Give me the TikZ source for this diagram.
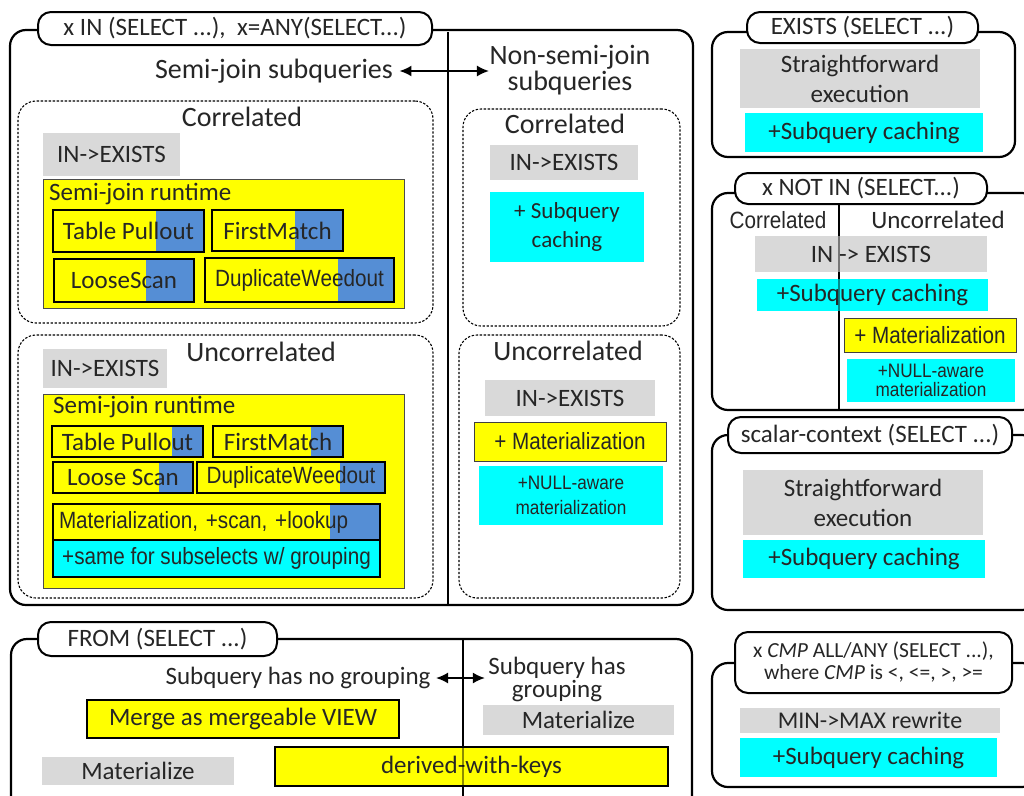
\documentclass[tikz,border=0pt]{standalone}
\usepackage{fontspec}
\setmainfont{Carlito}
\newfontfamily\arn[FakeStretch=0.88]{Liberation Sans}
\usetikzlibrary{arrows.meta}
\definecolor{ygold}{HTML}{FFFF00}
\definecolor{cyn}{HTML}{00FFFF}
\definecolor{gry}{HTML}{D9D9D9}
\definecolor{blu}{HTML}{558ED5}
\definecolor{txt}{HTML}{262626}
\newcommand\fL{\fontsize{28}{26}\selectfont}
\newcommand\fM{\fontsize{25}{30}\selectfont}
\newcommand\fMt{\fontsize{25}{23}\selectfont}
\newcommand\fMm{\fontsize{24}{26}\selectfont}
\newcommand\fS{\fontsize{23}{29}\selectfont}
\newcommand\fT{\fontsize{21.5}{22}\selectfont}
\newcommand\fN{\arn\fontsize{23.5}{26}\selectfont}
\newcommand\fNs{\arn\fontsize{19.5}{25}\selectfont}
\newcommand\fNt{\arn\fontsize{19.5}{19}\selectfont}
\newcommand\mybx[7]{\node[inner sep=0pt,outer sep=0pt,minimum width={(#5)-(#3)},minimum height={(#6)-(#4)},#2] (#1) at ({((#3)+(#5))/2},{((#4)+(#6))/2}) {#7};}
\tikzset{
  bigbox/.style={draw=black, line width=2.2pt, rounded corners=16pt},
  lab/.style={draw=black, fill=white, line width=2pt, rounded corners=13pt, font=\fM},
  dbox/.style={draw=black, line width=1.1pt, dash pattern=on 2.4pt off 1.6pt, rounded corners=18pt},
  grayb/.style={fill=gry},
  cyanb/.style={fill=cyn},
  yelb/.style={fill=ygold, draw=black!75, line width=0.8pt},
  sjr/.style={fill=ygold, draw=black!70, line width=0.9pt},
  algo/.style={fill=ygold, draw=black, line width=1.6pt,
    path picture={\fill[blu] ([xshift=-#1]path picture bounding box.north east) rectangle (path picture bounding box.south east);}},
  divider/.style={draw=black, line width=1.8pt},
  dblarrow/.style={{Latex[length=12pt,width=11pt]}-{Latex[length=12pt,width=11pt]}, line width=1.8pt},
}
\begin{document}
\begin{tikzpicture}[x=1pt,y=-1pt, every node/.append style={text=txt}]
\fill[white] (0,0) rectangle (1024,795);
\useasboundingbox (0,0) rectangle (1024,795);

% ---------------- IN box
\mybx{inbox}{bigbox}{10}{30}{693}{605}{}
\draw[divider] (448,32) -- (448,605);
\mybx{inlab}{lab}{38}{12}{432}{45}{x IN (SELECT ...),\ \ x=ANY(SELECT...)}
\node[font=\fL] (sjq) at (274,71) {Semi-join subqueries};
\node[font=\fL,align=center] (nsj) at (570,70) {Non-semi-join\\subqueries};
\draw[dblarrow] ([xshift=3pt]sjq.east) -- ([xshift=3pt]sjq.east -| nsj.west);

% left correlated
\mybx{corrL}{dbox}{18}{101}{433}{323}{}
\node[font=\fL] (corrLt) at (242,117) {Correlated};
\mybx{ieL1}{grayb,font=\fM}{43}{133}{180}{176}{IN->EXISTS}
\mybx{sjr1}{sjr}{43}{179}{404}{308}{}
\node[font=\fM,anchor=west,inner sep=0pt] (sjr1t) at (49,194) {Semi-join runtime};
\mybx{tp1}{algo=48,font=\fM}{53}{210}{204}{252}{Table Pullout}
\mybx{fm1}{algo=48,font=\fM}{212}{210}{343}{251}{FirstMatch}
\mybx{ls1}{algo=48,font=\fM}{54}{259}{194}{302}{LooseScan}
\mybx{dw1}{algo=56,font=\fN}{205}{258}{394}{302}{DuplicateWeedout}

% left uncorrelated
\mybx{uncL}{dbox}{18}{335}{433}{598}{}
\node[font=\fL] (uncLt) at (261,352) {Uncorrelated};
\mybx{ieL2}{grayb,font=\fM}{43}{349}{167}{388}{IN->EXISTS}
\mybx{sjr2}{sjr}{43}{394}{404}{588}{}
\node[font=\fM,anchor=west,inner sep=0pt] (sjr2t) at (53,407) {Semi-join runtime};
\mybx{tp2}{algo=31,font=\fM}{52}{426}{203}{457}{Table Pullout}
\mybx{fm2}{algo=32,font=\fM}{213}{426}{343}{457}{FirstMatch}
\mybx{ls2}{algo=34,font=\fM}{53}{462}{193}{493}{Loose Scan}
\mybx{dw2}{algo=45,font=\fN}{197}{462}{385}{493}{DuplicateWeedout}
\mybx{mat2}{algo=50,font=\fN,inner xsep=6pt,text width=315pt,align=left}{53}{504}{380}{540}{Materialization, +scan, +lookup}
\mybx{same2}{cyanb,draw=black,line width=1.6pt,font=\fN}{53}{540}{380}{577}{+same for subselects w/ grouping}

% right correlated
\mybx{corrR}{dbox}{463}{109}{680}{326}{}
\node[font=\fL] (corrRt) at (565,124) {Correlated};
\mybx{ieR1}{grayb,font=\fM}{490}{145}{638}{180}{IN->EXISTS}
\mybx{scR1}{cyanb,font=\fS,align=center}{490}{192}{644}{262}{+ Subquery\\caching}

% right uncorrelated
\mybx{uncR}{dbox}{459}{335}{680}{598}{}
\node[font=\fL] (uncRt) at (568,351) {Uncorrelated};
\mybx{ieR2}{grayb,font=\fM}{485}{380}{655}{416}{IN->EXISTS}
\mybx{matR2}{yelb,font=\fN}{474}{422}{666}{461}{+ Materialization}
\mybx{nullR2}{cyanb,font=\fNs,align=center}{479}{466}{663}{525}{+NULL-aware\\materialization}

% ---------------- EXISTS
\mybx{exbox}{bigbox}{712}{32}{1015}{157}{}
\mybx{exlab}{lab}{747}{12}{978}{43}{EXISTS (SELECT ...)}
\mybx{exsf}{grayb,font=\fM,align=center}{740}{49}{980}{108}{Straightforward\\execution}
\mybx{exsc}{cyanb,font=\fM}{745}{113}{983}{152}{+Subquery caching}

% ---------------- NOT IN
\mybx{nibox}{bigbox}{712}{193}{1038}{410}{}
\mybx{nilab}{lab}{735}{173}{987}{204}{x NOT IN (SELECT...)}
\draw[divider] (839,204) -- (839,410);
\node[font=\fN] (nicorr) at (778,220) {Correlated};
\node[font=\fM] (niunc) at (938,220) {Uncorrelated};
\mybx{niie}{grayb,font=\fM}{755}{236}{987}{272}{IN -> EXISTS}
\mybx{nisc}{cyanb,font=\fM}{757}{279}{988}{311}{+Subquery caching}
\draw[divider,draw opacity=0.45] (839,236) -- (839,311);
\mybx{nimat}{yelb,font=\fN}{844}{318}{1016}{352}{+ Materialization}
\mybx{ninull}{cyanb,font=\fNt,align=center}{847}{359}{1015}{402}{+NULL-aware\\materialization}

% ---------------- scalar-context
\mybx{scbox}{bigbox}{712}{435}{1038}{610}{}
\mybx{sclab}{lab}{728}{417}{1012}{453}{scalar-context (SELECT ...)}
\mybx{scsf}{grayb,font=\fM,align=center}{743}{470}{983}{535}{Straightforward\\execution}
\mybx{scsc}{cyanb,font=\fM}{743}{540}{985}{578}{+Subquery caching}

% ---------------- CMP ALL/ANY
\mybx{cmpbox}{bigbox}{712}{663}{1038}{787}{}
\mybx{cmplab}{lab,font=\fT,align=center}{735}{632}{1012}{693}{x \textit{CMP} ALL/ANY (SELECT ...),\\where \textit{CMP} is <, <=, >, >=}
\mybx{cmpmm}{grayb,font=\fMm}{740}{708}{1000}{733}{MIN->MAX rewrite}
\mybx{cmpsc}{cyanb,font=\fM}{740}{738}{997}{777}{+Subquery caching}

% ---------------- FROM
\mybx{frbox}{bigbox}{11}{639}{692}{812}{}
\mybx{frlab}{lab}{38}{622}{277}{656}{FROM (SELECT ...)}
\draw[divider] (463,639) -- (463,800);
\node[font=\fM] (nog) at (298,678) {Subquery has no grouping};
\node[font=\fMt,align=center] (hasg) at (557,679) {Subquery has\\grouping};
\draw[dblarrow] ([xshift=2pt]nog.east) -- (nog.east -| hasg.west);
\mybx{merge}{yelb,draw=black,line width=1.2pt,font=\fM}{87}{700}{399}{738}{Merge as mergeable VIEW}
\mybx{matr}{grayb,font=\fM}{483}{705}{674}{735}{Materialize}
\mybx{matl}{grayb,font=\fM}{42}{757}{234}{785}{Materialize}
\mybx{dwk}{yelb,draw=black,line width=1.2pt,font=\fM}{275}{747}{668}{786}{derived-with-keys}
\draw[divider,draw opacity=0.45] (463,747) -- (463,786);
\end{tikzpicture}
\end{document}
